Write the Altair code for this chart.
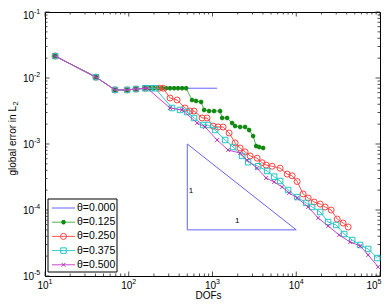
import altair as alt
import pandas as pd

# ---------------- data ----------------
t000_x = [13.2, 40.6, 68.5, 95.5, 122, 157, 1135]
t000_y = [0.0215, 0.0103, 0.0066, 0.0066, 0.0068, 0.0070, 0.0070]

t125_x = [13.2, 40.6, 68.5, 95.5, 122, 157, 180, 200, 224, 250, 279, 311, 348, 388, 434, 484,
          570, 637, 731, 794, 910, 1045, 1233, 1303, 1494, 1714, 1862, 2137, 2450, 2737, 3055,
          3319, 3606, 4026]
t125_y = [0.0215, 0.0103, 0.0066, 0.0066, 0.0068, 0.0070, 0.0070, 0.0070, 0.0070, 0.0070, 0.0070,
          0.0070, 0.0070, 0.0070, 0.0070, 0.0070,
          0.00464, 0.00449, 0.00433, 0.00328, 0.00316, 0.00316, 0.00316, 0.00248, 0.00248, 0.00208,
          0.00187, 0.00181, 0.00181, 0.00163, 0.00132, 0.00093, 0.00090, 0.00087]

t250_x = [13.2, 40.6, 68.5, 95.5, 122, 157, 230, 257, 311, 378, 471, 540, 603, 751, 861, 1016,
          1167, 1339, 1579, 1862, 2137, 2450, 2814, 3412, 3917, 4369, 5152, 6423, 7788, 8933,
          10250, 12080, 13870, 16370, 19320, 22150, 26120, 30830, 36300, 41690]
t250_y = [0.0215, 0.0103, 0.0066, 0.0066, 0.0068, 0.0070, 0.0070, 0.0070, 0.00498, 0.00464,
          0.00351, 0.00316, 0.00316, 0.00248, 0.00248, 0.00187, 0.00181, 0.00181, 0.00147, 0.00104,
          0.00087, 0.00076, 0.00066, 0.00061, 0.00052, 0.00048, 0.00046, 0.00043, 0.00035, 0.00033,
          0.00027, 0.000175, 0.000152, 0.000132, 0.000123, 0.000111, 0.000100, 0.000073, 0.0000635,
          0.0000553]

t375_x = [13.2, 40.6, 68.5, 95.5, 122, 157, 180, 206, 329, 410, 497, 603, 773, 885, 1074, 1415,
          1762, 2259, 2663, 3508, 4490, 5445, 6423, 8001, 10250, 13120, 15490, 19320, 24040, 29990,
          37330, 46560, 57980, 72280, 92680]
t375_y = [0.0215, 0.0103, 0.0066, 0.0066, 0.0068, 0.0070, 0.0070, 0.0070, 0.00351, 0.00328,
          0.00305, 0.00248, 0.00194, 0.00194, 0.00163, 0.00115, 0.00090, 0.00066, 0.00053, 0.00046,
          0.00039, 0.00032, 0.000275, 0.000201, 0.000157, 0.000128, 0.000111, 0.0000933, 0.0000658,
          0.0000593, 0.0000433, 0.0000351, 0.0000295, 0.0000257, 0.0000187]

t500_x = [13.2, 40.6, 68.5, 95.5, 122, 157, 166, 311, 434, 655, 816, 1135, 1536, 2137, 2590, 3412,
          4369, 5445, 6793, 8226, 10250, 13870, 18280, 24040, 32600, 44060, 57980, 72280, 95100]
t500_y = [0.0215, 0.0103, 0.0066, 0.0066, 0.0068, 0.0070, 0.0070, 0.00351, 0.00328, 0.00208,
          0.00181, 0.00115, 0.00081, 0.00073, 0.00057, 0.00043, 0.000305, 0.000266, 0.000223,
          0.000181, 0.000152, 0.000111, 0.0000757, 0.0000573, 0.0000418, 0.0000327, 0.0000285,
          0.0000208, 0.0000137]

labels = ["θ=0.000", "θ=0.125", "θ=0.250", "θ=0.375", "θ=0.500"]

tri_x = [500, 500, 10000, 500]
tri_y = [1e-3, 5e-5, 5e-5, 1e-3]
slope_lbl_x = [555, 1967]
slope_lbl_y = [1.94e-4, 6.8e-5]
slope_lbl = ["1", "1"]

xtick_vals = [10, 100, 1000, 10000, 100000]
xtick_exp = ["1", "2", "3", "4", "5"]
ytick_vals = [1e-1, 1e-2, 1e-3, 1e-4, 1e-5]
ytick_exp = ["-1", "-2", "-3", "-4", "-5"]

# ---------------- styling ----------------
W, H = 335, 264
FONT = "Liberation Sans"
xs = alt.Scale(type="log", domain=[10, 1e5], nice=False)
ys = alt.Scale(type="log", domain=[1e-5, 1e-1], nice=False)

ASTER = "M0,-1L0,1M-1,0L1,0M-0.7,-0.7L0.7,0.7M-0.7,0.7L0.7,-0.7"
CROSS = "M-1,-1L1,1M-1,1L1,-1"

series = [
    dict(x=t000_x, y=t000_y, line="#6464ff", mc=None),
    dict(x=t125_x, y=t125_y, line="#55b055", mc="#118a11", shape=ASTER, size=20, sw=1.6),
    dict(x=t250_x, y=t250_y, line="#ff5555", mc="#ff4444", shape="circle", size=36, sw=1),
    dict(x=t375_x, y=t375_y, line="#33cccc", mc="#22c4c4", shape="square", size=30, sw=1),
    dict(x=t500_x, y=t500_y, line="#cc44cc", mc="#bb33bb", shape=CROSS, size=14, sw=1),
]


def X(f="x"):
    return alt.X(f"{f}:Q", scale=xs, axis=None)


def Y(f="y"):
    return alt.Y(f"{f}:Q", scale=ys, axis=None)


one = pd.DataFrame({"a": [0]})
layers = []

# inside ticks
minor_x = [m * 10 ** k for k in range(1, 5) for m in range(2, 10)]
minor_y = [m * 10.0 ** k for k in range(-5, -1) for m in range(2, 10)]
mx = pd.DataFrame({"x": xtick_vals})
nx = pd.DataFrame({"x": minor_x})
my = pd.DataFrame({"y": ytick_vals})
ny = pd.DataFrame({"y": minor_y})
TK = "#222222"
for df, ln in ((mx, 4.5), (nx, 2.5)):
    layers.append(alt.Chart(df).mark_rule(color=TK, strokeWidth=0.8).encode(
        x=X(), y=alt.value(H), y2=alt.value(H - ln)))
    layers.append(alt.Chart(df).mark_rule(color=TK, strokeWidth=0.8).encode(
        x=X(), y=alt.value(0), y2=alt.value(ln)))
for df, ln in ((my, 4.5), (ny, 2.5)):
    layers.append(alt.Chart(df).mark_rule(color=TK, strokeWidth=0.8).encode(
        y=Y(), x=alt.value(0), x2=alt.value(ln)))
    layers.append(alt.Chart(df).mark_rule(color=TK, strokeWidth=0.8).encode(
        y=Y(), x=alt.value(W), x2=alt.value(W - ln)))

# slope triangle
tri = pd.DataFrame({"x": tri_x, "y": tri_y, "i": range(len(tri_x))})
layers.append(alt.Chart(tri).mark_line(color="#6464ff", strokeWidth=1).encode(
    x=X(), y=Y(), order="i:Q"))
sl = pd.DataFrame({"x": slope_lbl_x, "y": slope_lbl_y, "t": slope_lbl})
layers.append(alt.Chart(sl).mark_text(font=FONT, fontSize=8, color="black").encode(
    x=X(), y=Y(), text="t:N"))

# series
for s in series:
    df = pd.DataFrame({"x": s["x"], "y": s["y"], "i": range(len(s["x"]))})
    layers.append(alt.Chart(df).mark_line(color=s["line"], strokeWidth=1).encode(
        x=X(), y=Y(), order="i:Q"))
    if s["mc"]:
        layers.append(alt.Chart(df).mark_point(
            shape=s["shape"], size=s["size"], filled=False, color=s["mc"],
            strokeWidth=s["sw"], opacity=1).encode(x=X(), y=Y()))

# tick labels (edge labels nudged inward so they stay inside the page)
xl = pd.DataFrame({"x": xtick_vals, "e": xtick_exp})
for sub, shift in ((xl.iloc[:-1], 0), (xl.iloc[-1:], -6)):
    layers.append(alt.Chart(sub).mark_text(font=FONT, fontSize=10, baseline="middle",
                                           align="center", dx=-2 + shift, color="black").encode(
        x=X(), y=alt.value(H + 10), text=alt.value("10")))
    layers.append(alt.Chart(sub).mark_text(font=FONT, fontSize=7, baseline="middle",
                                           align="left", dx=3.5 + shift, color="black").encode(
        x=X(), y=alt.value(H + 5.5), text="e:N"))
yl = pd.DataFrame({"y": ytick_vals, "e": ytick_exp})
for sub, shift in ((yl.iloc[1:], 0), (yl.iloc[:1], 2.5)):
    layers.append(alt.Chart(sub).mark_text(font=FONT, fontSize=10, baseline="middle",
                                           align="right", dy=1 + shift, color="black").encode(
        y=Y(), x=alt.value(-11), text=alt.value("10")))
    layers.append(alt.Chart(sub).mark_text(font=FONT, fontSize=7, baseline="middle",
                                           align="left", dy=-3 + shift, color="black").encode(
        y=Y(), x=alt.value(-11), text="e:N"))

# axis titles
layers.append(alt.Chart(one).mark_text(font=FONT, fontSize=10, baseline="middle", align="center",
                                       color="black").encode(
    x=alt.value(W / 2 - 4), y=alt.value(H + 19.5), text=alt.value("DOFs")))
layers.append(alt.Chart(one).mark_text(font=FONT, fontSize=10, baseline="middle", align="right",
                                       angle=270, color="black").encode(
    x=alt.value(-32), y=alt.value(94), text=alt.value("global error in L")))
layers.append(alt.Chart(one).mark_text(font=FONT, fontSize=7.5, baseline="middle", align="left",
                                       angle=270, dx=0.5, dy=3, color="black").encode(
    x=alt.value(-32), y=alt.value(94), text=alt.value("2")))

# legend
LX0, LX1, LY0, LY1 = 3, 72, 187, 260
layers.append(alt.Chart(one).mark_rect(fill="white", stroke="black", strokeWidth=1).encode(
    x=alt.value(LX0), x2=alt.value(LX1), y=alt.value(LY0), y2=alt.value(LY1)))
for i, (s, lab) in enumerate(zip(series, labels)):
    yr = LY0 + 9 + i * 14.2
    layers.append(alt.Chart(one).mark_rule(color=s["line"], strokeWidth=1).encode(
        x=alt.value(7), x2=alt.value(30), y=alt.value(yr)))
    if s["mc"]:
        layers.append(alt.Chart(one).mark_point(
            shape=s["shape"], size=s["size"], filled=False, color=s["mc"],
            strokeWidth=s["sw"], opacity=1).encode(x=alt.value(18.5), y=alt.value(yr)))
    layers.append(alt.Chart(one).mark_text(font=FONT, fontSize=10.5, baseline="middle",
                                           align="left", color="black").encode(
        x=alt.value(32), y=alt.value(yr), text=alt.value(lab)))

chart = alt.layer(*layers).properties(
    width=W, height=H,
    padding={"left": 37, "top": 4, "right": 2, "bottom": 23},
    autosize=alt.AutoSizeParams(type="none"),
    background="white",
).configure_view(stroke="black", strokeWidth=1)

chart.save("out.html", embed_options={"renderer": "svg", "actions": False})
